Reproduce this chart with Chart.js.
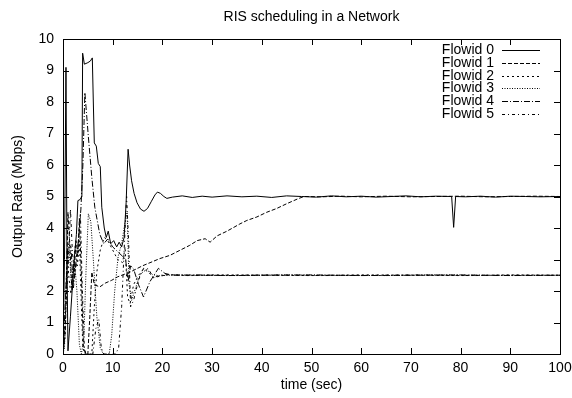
<!DOCTYPE html>
<html>
<head>
<meta charset="utf-8">
<script src="https://cdn.jsdelivr.net/npm/chart.js@4"></script>
<style>
html, body { margin: 0; padding: 0; background: #fff; }
canvas { display: block; }
</style>
</head>
<body>
<canvas id="grafica" width="572" height="398"></canvas>
<script>
// Datos: [tiempo (s), tasa (Mbps)]
const titulo = "RIS scheduling in a Network";
const etiquetas = ["Flowid 0", "Flowid 1", "Flowid 2", "Flowid 3", "Flowid 4", "Flowid 5"];

const flow0 = [[0, 0], [0.3, 3.0], [0.6, 9.1], [0.8, 3.0], [1.0, 0.1], [1.5, 1.2], [2.0, 2.4], [2.3, 3.1], [2.7, 3.8],
    [3.0, 4.87], [3.4, 4.9], [3.8, 5.0], [3.95, 9.55], [4.3, 9.2], [5.0, 9.25], [5.5, 9.3], [5.9, 9.4], [6.1, 8.0],
    [6.3, 6.7], [6.7, 6.6], [7.1, 6.05], [7.5, 5.95], [7.8, 4.66], [8.3, 4.0], [8.7, 3.7], [9.1, 3.9], [9.6, 3.5],
    [10.2, 3.6], [10.8, 3.4], [11.3, 3.55], [11.8, 3.4], [12.3, 3.7], [12.7, 4.8], [13.1, 6.5], [13.4, 6.0], [13.8, 5.5],
    [14.3, 5.1], [14.9, 4.8], [15.6, 4.6], [16.3, 4.53], [17.0, 4.62], [17.8, 4.85], [18.5, 5.05], [19.0, 5.14],
    [19.6, 5.1], [20.3, 5.0], [20.9, 4.94], [22, 4.98], [24, 5.02], [26, 4.97],
    [28, 5.01], [30, 4.98], [33, 5.02], [36, 4.99], [39, 5.01], [42, 4.97], [45, 5.02], [48, 5.0], [51, 4.98], [54, 5.02],
    [57, 4.99], [60, 5.01], [63, 4.98], [66, 5.0], [69, 5.02], [72, 4.99], [75, 5.01], [78.2, 5.0], [78.6, 4.02],
    [79.0, 5.0], [81, 4.99], [84, 5.01], [87, 4.98], [90, 5.01], [93, 5.0], [96, 4.99], [100, 5.0]];

const flow1 = [[0, 0], [0.5, 0.8], [1.0, 4.5], [1.4, 3.4], [1.8, 2.0], [2.2, 2.4], [2.6, 3.6], [3.0, 3.2], [3.3, 4.3],
    [3.7, 2.5], [4.1, 0.3], [4.5, 0], [5.0, 0], [5.4, 1.2], [5.8, 2.6], [6.3, 2.2], [7.4, 2.13], [8.5, 2.25], [9.8, 2.34],
    [11, 2.45], [13.5, 2.6], [16, 2.8], [19.5, 3.03], [21.5, 3.13], [23.5, 3.29], [25.5, 3.45], [27, 3.6], [28.6, 3.66],
    [29.6, 3.55], [31, 3.75], [33, 3.9], [35.6, 4.13], [37, 4.24], [39, 4.35], [41, 4.5], [43, 4.62], [45, 4.77],
    [47.3, 4.93], [48.5, 5.0], [52, 4.99], [56, 5.01], [60, 4.99], [65, 5.01], [70, 4.99], [75, 5.0], [80, 5.01],
    [85, 4.99], [90, 5.0], [95, 5.01], [100, 5.0]];

const flow2 = [[0, 0], [0.4, 0.5], [0.8, 3.3], [1.2, 2.4], [1.6, 1.9], [2.0, 2.6], [2.5, 3.5], [2.9, 2.8], [3.3, 3.6],
    [3.7, 1.5], [4.0, 0.2], [4.4, 0], [5.8, 0], [6.3, 1.5], [6.8, 2.6], [7.5, 3.3], [8.3, 3.7], [9.0, 3.6], [10.0, 3.3],
    [11.0, 3.0], [12.0, 2.9], [12.5, 3.4], [13.0, 1.8], [13.5, 1.6], [14.2, 2.2], [15.2, 2.5], [16.2, 2.7], [17.2, 2.6],
    [18.2, 2.42], [19.5, 2.47], [21, 2.52], [25, 2.49], [30, 2.51], [40, 2.5], [50, 2.49], [60, 2.51], [70, 2.5],
    [80, 2.49], [90, 2.51], [100, 2.5]];

const flow3 = [[0, 0], [0.3, 0.2], [0.7, 2.5], [1.2, 3.4], [1.7, 2.2], [2.3, 3.0], [2.8, 2.0], [3.3, 0.3], [3.7, 0],
    [4.2, 0.5], [4.6, 2.5], [5.1, 4.45], [5.6, 4.2], [6.1, 3.0], [6.8, 1.2], [7.5, 0.2], [8.1, 0], [9.3, 0], [9.8, 0.6],
    [10.4, 2.0], [11.1, 3.1], [11.8, 3.5], [12.5, 4.2], [12.9, 4.5], [13.3, 2.2], [13.8, 1.7], [14.6, 2.1], [15.6, 2.55],
    [16.8, 2.68], [18, 2.52], [19.5, 2.48], [22, 2.51], [28, 2.5], [35, 2.49], [45, 2.51], [55, 2.5], [65, 2.49],
    [75, 2.51], [85, 2.5], [100, 2.5]];

const flow4 = [[0, 0], [0.5, 1.8], [1.0, 3.5], [1.6, 3.4], [2.1, 2.1], [2.6, 2.9], [3.1, 3.6], [3.6, 4.6], [4.0, 6.0],
    [4.4, 8.3], [5.1, 6.9], [5.8, 5.6], [6.4, 4.66], [7.4, 3.8], [8.2, 3.5], [9.0, 3.65], [10, 3.4], [11, 3.25],
    [12, 3.1], [12.6, 3.0], [13.1, 2.3], [13.6, 2.8], [14.2, 2.7], [15.2, 2.2], [16.2, 1.81], [17.5, 2.3], [19.2, 2.72],
    [20.5, 2.56], [22, 2.5], [27, 2.51], [33, 2.49], [40, 2.5], [50, 2.51], [60, 2.49], [70, 2.5], [80, 2.51],
    [90, 2.49], [100, 2.5]];

const flow5 = [[0, 0], [0.6, 1.5], [1.1, 3.0], [1.5, 4.6], [1.9, 3.2], [2.4, 2.5], [2.9, 3.1], [3.5, 4.45], [3.9, 2.0],
    [4.3, 0.2], [4.6, 0], [6.0, 0], [6.6, 0.8], [7.2, 1.1], [7.7, 0.2], [8.2, 0], [10.6, 0], [11.2, 0.2], [11.8, 1.5],
    [12.3, 3.3], [12.8, 5.0], [13.2, 3.6], [13.6, 1.5], [14.2, 1.7], [15.2, 2.35], [16.2, 2.72], [17.2, 2.7],
    [18.2, 2.42], [19.5, 2.5], [21, 2.52], [26, 2.49], [32, 2.5], [42, 2.51], [52, 2.49], [62, 2.5], [72, 2.51],
    [82, 2.49], [92, 2.5], [100, 2.5]];

const series = [flow0, flow1, flow2, flow3, flow4, flow5];
const trazos = [[], [4, 2], [2, 3], [1, 1.5], [6, 2, 1, 2], [3, 3, 1, 3]];

const fuente = { family: "'Liberation Sans', Arial, Helvetica, sans-serif", size: 14 };

// marco, marcas hacia dentro, titulo y leyenda al estilo gnuplot
const marco = {
    id: "marco",
    afterDatasetsDraw(chart) {
        const { ctx, chartArea: a, scales } = chart;
        ctx.save();
        ctx.strokeStyle = "#000";
        ctx.lineWidth = 1;
        ctx.beginPath();
        scales.x.ticks.forEach(t => {
            const px = Math.round(scales.x.getPixelForValue(t.value)) + 0.5;
            ctx.moveTo(px, a.bottom); ctx.lineTo(px, a.bottom - 6);
            ctx.moveTo(px, a.top); ctx.lineTo(px, a.top + 6);
        });
        scales.y.ticks.forEach(t => {
            const py = Math.round(scales.y.getPixelForValue(t.value)) + 0.5;
            ctx.moveTo(a.left, py); ctx.lineTo(a.left + 6, py);
            ctx.moveTo(a.right, py); ctx.lineTo(a.right - 6, py);
        });
        ctx.stroke();
        ctx.strokeRect(Math.round(a.left) + 0.5, Math.round(a.top) + 0.5,
            Math.round(a.right - a.left), Math.round(a.bottom - a.top));

        ctx.font = "14px " + fuente.family;
        ctx.fillStyle = "#000";
        ctx.textBaseline = "middle";
        ctx.textAlign = "center";
        ctx.fillText(titulo, (a.left + a.right) / 2, 17);

        // leyenda
        ctx.textAlign = "right";
        chart.data.datasets.forEach((ds, i) => {
            const y = Math.round(a.top + 11 + 12.8 * i) + 0.5;
            ctx.fillText(ds.label, a.right - 66, y);
            ctx.setLineDash(ds.borderDash);
            ctx.beginPath();
            ctx.moveTo(a.right - 58, y);
            ctx.lineTo(a.right - 20, y);
            ctx.stroke();
        });
        ctx.restore();
    }
};

new Chart(document.getElementById("grafica"), {
    type: "line",
    data: {
        datasets: series.map((s, i) => ({
            label: etiquetas[i],
            data: s.map(p => ({ x: p[0], y: p[1] })),
            borderColor: "#000",
            borderWidth: 1,
            borderDash: trazos[i],
            pointRadius: 0,
            tension: 0,
            fill: false,
            order: 6 - i
        }))
    },
    options: {
        responsive: false,
        animation: false,
        devicePixelRatio: 1,
        layout: { padding: { left: 0, right: 12, top: 39, bottom: 0 } },
        plugins: {
            legend: { display: false },
            tooltip: { enabled: false },
            title: { display: false }
        },
        scales: {
            x: {
                type: "linear",
                min: 0,
                max: 100,
                grid: { display: false, drawTicks: false },
                border: { display: false },
                ticks: { stepSize: 10, color: "#000", font: fuente, padding: 6, maxRotation: 0 },
                title: { display: true, text: "time (sec)", color: "#000", font: fuente, padding: { top: 0, bottom: 4 } },
                afterFit: s => { s.height = 44; s.paddingLeft = 0; s.paddingRight = 0; }
            },
            y: {
                min: 0,
                max: 10,
                grid: { display: false, drawTicks: false },
                border: { display: false },
                ticks: { stepSize: 1, color: "#000", font: fuente, padding: 9 },
                title: { display: true, text: "Output Rate (Mbps)", color: "#000", font: fuente, padding: { top: 10, bottom: 0 } },
                afterFit: s => { s.width = 63; s.paddingTop = 0; s.paddingBottom = 0; }
            }
        }
    },
    plugins: [marco]
});
</script>
</body>
</html>
